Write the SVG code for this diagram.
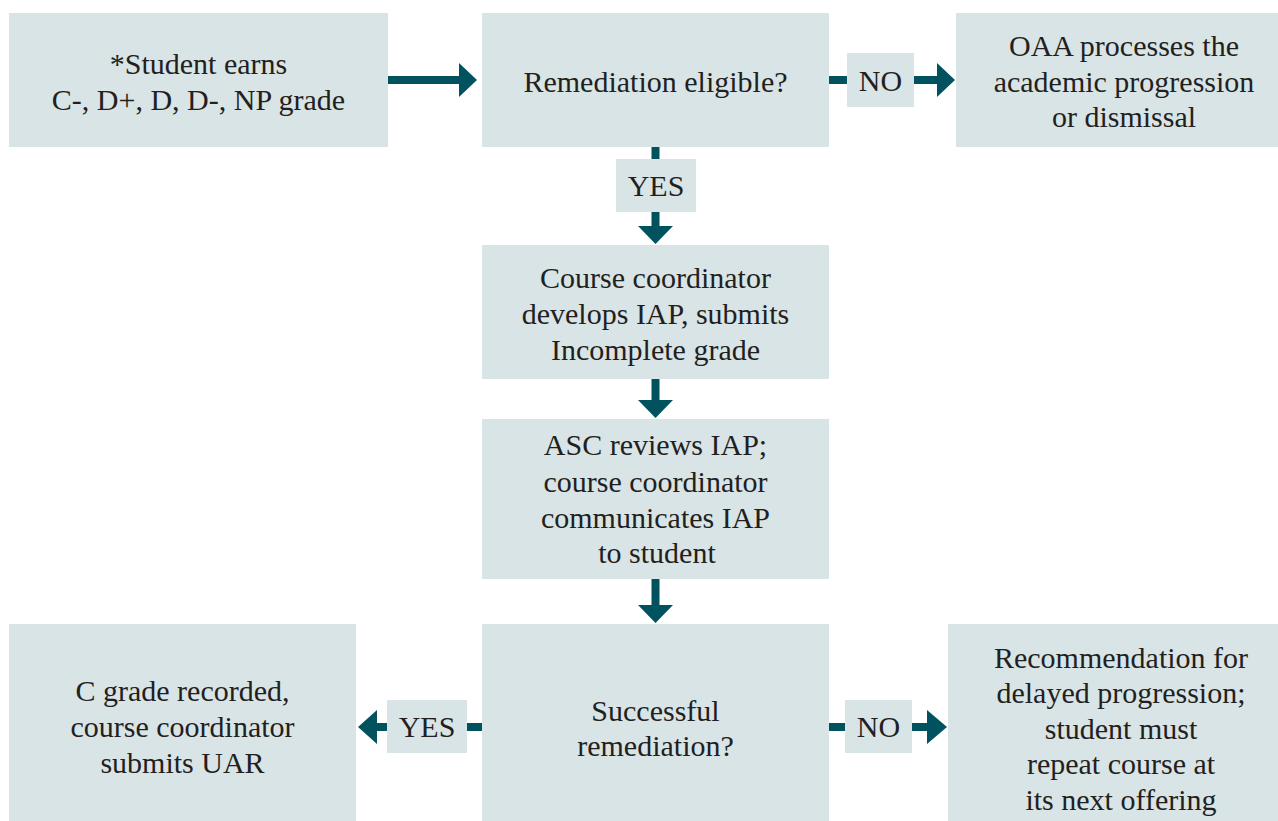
<svg xmlns="http://www.w3.org/2000/svg" width="1278" height="821" viewBox="0 0 1278 821">
<style>
.box{fill:#d9e4e6}
.t{font-family:"Liberation Serif","Times New Roman",serif;font-size:30px;fill:#231f20;text-anchor:middle}
.ln{stroke:#00535e;stroke-width:8;fill:none}
.hd{fill:#00535e}
</style>
<rect width="1278" height="821" fill="#ffffff"/>
<g id="n-student">
<rect class="box" x="9" y="13" width="379" height="134"/>
<text class="t" x="198.5"><tspan x="198.5" y="74">*Student earns</tspan><tspan x="198.5" y="110">C-, D+, D, D-, NP grade</tspan></text>
</g>
<g id="n-eligible">
<rect class="box" x="482" y="13" width="347" height="134"/>
<text class="t" x="655.5" y="92">Remediation eligible?</text>
</g>
<g id="n-oaa">
<rect class="box" x="956" y="13" width="322" height="134"/>
<text class="t"><tspan x="1124" y="56">OAA processes the</tspan><tspan x="1124" y="92">academic progression</tspan><tspan x="1124" y="127">or dismissal</tspan></text>
</g>
<g id="n-iap">
<rect class="box" x="482" y="245" width="347" height="134"/>
<text class="t"><tspan x="655.5" y="288">Course coordinator</tspan><tspan x="655.5" y="324">develops IAP, submits</tspan><tspan x="655.5" y="360">Incomplete grade</tspan></text>
</g>
<g id="n-asc">
<rect class="box" x="482" y="419" width="347" height="160"/>
<text class="t"><tspan x="655.5" y="455">ASC reviews IAP;</tspan><tspan x="655.5" y="492">course coordinator</tspan><tspan x="655.5" y="528">communicates IAP</tspan><tspan x="657" y="563">to student</tspan></text>
</g>
<g id="n-success">
<rect class="box" x="482" y="624" width="347" height="197"/>
<text class="t"><tspan x="655.5" y="721">Successful</tspan><tspan x="655.5" y="756">remediation?</tspan></text>
</g>
<g id="n-cgrade">
<rect class="box" x="9" y="624" width="347" height="197"/>
<text class="t"><tspan x="182.5" y="701">C grade recorded,</tspan><tspan x="182.5" y="737">course coordinator</tspan><tspan x="182.5" y="773">submits UAR</tspan></text>
</g>
<g id="n-delayed">
<rect class="box" x="948" y="624" width="330" height="197"/>
<text class="t"><tspan x="1121" y="668">Recommendation for</tspan><tspan x="1121" y="703">delayed progression;</tspan><tspan x="1121" y="739">student must</tspan><tspan x="1121" y="774">repeat course at</tspan><tspan x="1121" y="810">its next offering</tspan></text>
</g>
<g id="connectors">
<line class="ln" x1="388" y1="80" x2="461" y2="80"/>
<polygon class="hd" points="459,63 477,80 459,97"/>
<line class="ln" x1="829" y1="80" x2="848" y2="80"/>
<line class="ln" x1="913" y1="80" x2="939" y2="80"/>
<polygon class="hd" points="937,63 955,80 937,97"/>
<rect class="box" x="847" y="53" width="67" height="54"/>
<text class="t" x="880.5" y="91">NO</text>
<line class="ln" x1="655.5" y1="147" x2="655.5" y2="160"/>
<line class="ln" x1="655.5" y1="211" x2="655.5" y2="228"/>
<polygon class="hd" points="638,226 673,226 655.5,244"/>
<rect class="box" x="616" y="159" width="80" height="53"/>
<text class="t" x="656" y="196">YES</text>
<line class="ln" x1="655.5" y1="379" x2="655.5" y2="402"/>
<polygon class="hd" points="638,400 673,400 655.5,418"/>
<line class="ln" x1="655.5" y1="579" x2="655.5" y2="607"/>
<polygon class="hd" points="638,605 673,605 655.5,623"/>
<line class="ln" x1="482" y1="727" x2="466" y2="727"/>
<line class="ln" x1="388" y1="727" x2="375" y2="727"/>
<polygon class="hd" points="377,710 358,727 377,744"/>
<rect class="box" x="387" y="700" width="80" height="53"/>
<text class="t" x="427" y="737">YES</text>
<line class="ln" x1="829" y1="727" x2="846" y2="727"/>
<line class="ln" x1="911" y1="727" x2="929" y2="727"/>
<polygon class="hd" points="927,710 947,727 927,744"/>
<rect class="box" x="845" y="700" width="67" height="53"/>
<text class="t" x="878.5" y="737">NO</text>
</g>
</svg>
